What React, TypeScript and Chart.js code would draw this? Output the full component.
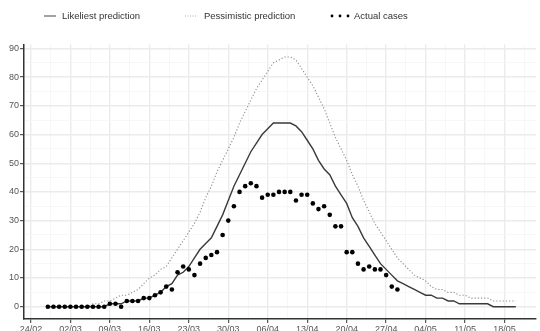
import React, { useEffect, useRef } from 'react';
import { Chart, registerables } from 'chart.js';

Chart.register(...registerables);

// ---------- data ----------
const ORIGIN_DATE = '2020-02-24';
const SERIES_START_DATE = '2020-02-27';
const YEAR = 2020;

const tickLabels = ['24/02', '02/03', '09/03', '16/03', '23/03', '30/03', '06/04', '13/04', '20/04', '27/04', '04/05', '11/05', '18/05'];
const yTickValues = [0, 10, 20, 30, 40, 50, 60, 70, 80, 90];
const seriesLabels = ['Likeliest prediction', 'Pessimistic prediction', 'Actual cases'];

// daily values from 27/02
const actualCases = [
  0, 0, 0, 0, 0, 0, 0, 0, 0, 0, 0,
  1, 1, 0, 2, 2, 2, 3, 3, 4, 5, 7, 6,
  12, 14, 13, 11, 15, 17, 18, 19, 25, 30, 35, 40,
  42, 43, 42, 38, 39, 39, 40, 40, 40, 37, 39, 39,
  36, 34, 35, 32, 28, 28, 19, 19, 15, 13, 14, 13,
  13, 11, 7, 6,
];

const likeliestPrediction = [
  0, 0, 0, 0, 0, 0, 0, 0, 0, 0, 0,
  1, 1, 1, 2, 2, 2, 3, 3, 4, 5, 7, 8,
  11, 12, 14, 17, 20, 22, 24, 28, 32, 37, 42, 46,
  50, 54, 57, 60, 62, 64, 64, 64, 64, 63, 61, 58,
  55, 51, 48, 46, 42, 39, 36, 31, 28, 24, 21, 18,
  15, 13, 11, 9, 8, 7, 6, 5, 4, 4, 3, 3,
  2, 2, 1, 1, 1, 1, 1, 1, 0, 0, 0, 0, 0,
];

const pessimisticPrediction = [
  0, 0, 0, 0, 0, 0, 0, 0,
  1, 1, 2, 2, 3, 4, 4, 5, 6, 8, 10, 11, 13, 14, 17,
  20, 23, 26, 29, 33, 38, 42, 47, 51, 55, 59, 64, 68, 72, 76,
  79, 82, 85, 86, 87, 87, 86, 83, 80, 77, 73, 69, 64, 59, 55,
  51, 46, 42, 37, 33, 29, 26, 23, 20, 17, 15, 13, 11, 10, 9,
  7, 6, 6, 5, 5, 4, 4, 3, 3, 3, 3, 2, 2, 2, 2, 2,
];

// ---------- helpers ----------
const DAY_MS = 86400000;
const dayOffset = (iso: string) => Math.round((Date.parse(iso) - Date.parse(ORIGIN_DATE)) / DAY_MS);
const labelToDay = (lbl: string) => {
  const [d, m] = lbl.split('/');
  return dayOffset(`${YEAR}-${m}-${d}`);
};
const toPoints = (vals: number[]) => {
  const s = dayOffset(SERIES_START_DATE);
  return vals.map((v, i) => ({ x: s + i, y: v }));
};

const X_MIN = -1.23;
const X_MAX = 89.58;
const Y_MIN = -4.29;
const Y_MAX = 91.4;

const xMajor = tickLabels.map(labelToDay);
const xMinor: number[] = [];
for (let i = 0; i < xMajor.length; i++) {
  const step = 7;
  const mid = xMajor[i] + step / 2;
  if (mid <= X_MAX) xMinor.push(mid);
  if (i === 0 && xMajor[0] - step / 2 >= X_MIN) xMinor.push(xMajor[0] - step / 2);
}
const xAllTicks = [...xMajor, ...xMinor].sort((a, b) => a - b);
const yMinor: number[] = [];
for (let i = 0; i < yTickValues.length; i++) {
  const mid = yTickValues[i] + 5;
  if (mid <= Y_MAX) yMinor.push(mid);
}
const yAllTicks = [...yTickValues, ...yMinor].sort((a, b) => a - b);

const FONT = '"Liberation Sans", Arial, sans-serif';
const AXIS_TEXT = '#555555';
const AXIS_LINE = '#333333';
const GRID_MAJOR = '#ebebeb';
const GRID_MINOR = '#f5f5f5';
const SOLID_COLOR = '#3a3a3a';
const DOTTED_COLOR = '#8c8c8c';

const legendPlugin = {
  id: 'customLegend',
  afterDraw(chart: any) {
    const ctx = chart.ctx as CanvasRenderingContext2D;
    const ds = chart.data.datasets;
    const y = 16;
    ctx.save();
    ctx.font = `9.5px ${FONT}`;
    ctx.fillStyle = '#333333';
    ctx.textBaseline = 'middle';
    ctx.textAlign = 'left';
    // item 1: solid line
    ctx.strokeStyle = '#666666';
    ctx.lineWidth = 1.2;
    ctx.setLineDash([]);
    ctx.beginPath();
    ctx.moveTo(44, y);
    ctx.lineTo(56, y);
    ctx.stroke();
    ctx.fillText(ds[1].label, 62, y);
    // item 2: dotted line
    ctx.strokeStyle = '#aaaaaa';
    ctx.lineWidth = 1;
    ctx.setLineDash([1, 1.5]);
    ctx.beginPath();
    ctx.moveTo(185, y);
    ctx.lineTo(197, y);
    ctx.stroke();
    ctx.setLineDash([]);
    ctx.fillText(ds[2].label, 204, y);
    // item 3: dots
    ctx.fillStyle = '#000000';
    [332, 340, 348].forEach((cx) => {
      ctx.beginPath();
      ctx.arc(cx, y, 1.4, 0, Math.PI * 2);
      ctx.fill();
    });
    ctx.fillStyle = '#333333';
    ctx.fillText(ds[0].label, 354, y);
    ctx.restore();
  },
};

export default function App() {
  const canvasRef = useRef<HTMLCanvasElement | null>(null);

  useEffect(() => {
    if (!canvasRef.current) return;
    Chart.defaults.font.family = FONT;
    const isXMajor = (v: number) => xMajor.includes(v);
    const isYMajor = (v: number) => yTickValues.includes(v);

    const chart = new Chart(canvasRef.current, {
      type: 'scatter',
      data: {
        datasets: [
          {
            type: 'scatter',
            label: seriesLabels[2],
            data: toPoints(actualCases),
            backgroundColor: '#000000',
            borderColor: '#000000',
            pointRadius: 2.3,
            pointBorderWidth: 0,
            showLine: false,
            order: 0,
          },
          {
            type: 'line',
            label: seriesLabels[0],
            data: toPoints(likeliestPrediction),
            borderColor: SOLID_COLOR,
            borderWidth: 1.4,
            pointRadius: 0,
            fill: false,
            tension: 0,
            order: 1,
          },
          {
            type: 'line',
            label: seriesLabels[1],
            data: toPoints(pessimisticPrediction),
            borderColor: DOTTED_COLOR,
            borderWidth: 1.1,
            borderDash: [1.2, 2],
            pointRadius: 0,
            fill: false,
            tension: 0,
            order: 2,
          },
        ] as any,
      },
      options: {
        animation: false,
        responsive: false,
        devicePixelRatio: 1,
        layout: { padding: { top: 44.4, left: 0, right: 0, bottom: 0 } },
        plugins: {
          legend: { display: false },
          tooltip: { enabled: false },
        },
        scales: {
          x: {
            type: 'linear',
            min: X_MIN,
            max: X_MAX,
            afterBuildTicks: (scale: any) => {
              scale.ticks = xAllTicks.map((v) => ({ value: v }));
            },
            afterFit: (scale: any) => {
              scale.height = 12;
            },
            ticks: {
              autoSkip: false,
              maxRotation: 0,
              minRotation: 0,
              padding: 1,
              color: AXIS_TEXT,
              font: { size: 9, family: FONT },
              callback: (v: any) => {
                const idx = xMajor.indexOf(Number(v));
                return idx >= 0 ? tickLabels[idx] : '';
              },
            },
            grid: {
              color: (c: any) => (c.tick && isXMajor(c.tick.value) ? GRID_MAJOR : GRID_MINOR),
              lineWidth: (c: any) => (c.tick && isXMajor(c.tick.value) ? 1.4 : 0.8),
              tickColor: (c: any) => (c.tick && isXMajor(c.tick.value) ? AXIS_LINE : 'rgba(0,0,0,0)'),
              tickLength: 4,
              tickWidth: 1,
            },
            border: { display: true, color: AXIS_LINE, width: 1.5 },
          },
          y: {
            type: 'linear',
            min: Y_MIN,
            max: Y_MAX,
            afterBuildTicks: (scale: any) => {
              scale.ticks = yAllTicks.map((v) => ({ value: v }));
            },
            afterFit: (scale: any) => {
              scale.width = 24;
            },
            ticks: {
              autoSkip: false,
              padding: 1,
              color: AXIS_TEXT,
              font: { size: 9, family: FONT },
              callback: (v: any) => (isYMajor(Number(v)) ? String(v) : ''),
            },
            grid: {
              color: (c: any) => (c.tick && isYMajor(c.tick.value) ? GRID_MAJOR : GRID_MINOR),
              lineWidth: (c: any) => (c.tick && isYMajor(c.tick.value) ? 1.4 : 0.8),
              tickColor: (c: any) => (c.tick && isYMajor(c.tick.value) ? AXIS_LINE : 'rgba(0,0,0,0)'),
              tickLength: 4,
              tickWidth: 1,
            },
            border: { display: true, color: AXIS_LINE, width: 1.5 },
          },
        },
      } as any,
      plugins: [legendPlugin],
    });
    return () => chart.destroy();
  }, []);

  return (
    <div style={{ position: 'absolute', left: 0, top: 0, width: 540, height: 331, background: '#ffffff' }}>
      <canvas ref={canvasRef} width={540} height={331} style={{ display: 'block', width: 540, height: 331 }} />
    </div>
  );
}
